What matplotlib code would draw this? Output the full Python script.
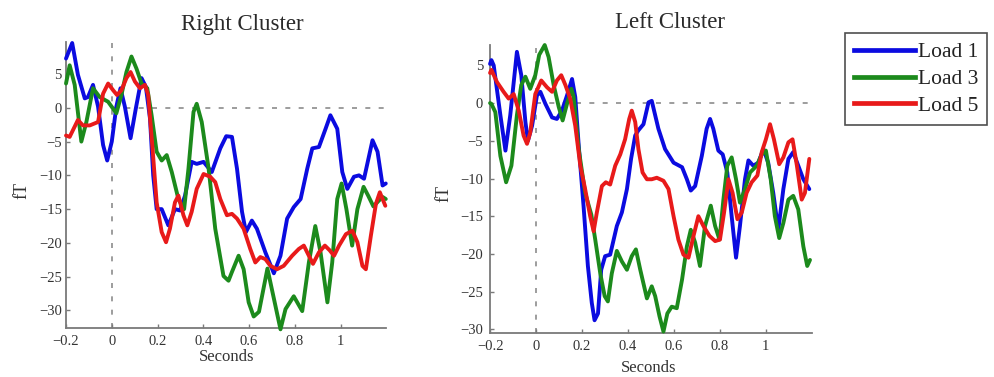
import matplotlib
matplotlib.use("Agg")
import matplotlib.pyplot as plt
from matplotlib.lines import Line2D

# ---------------- data ----------------
series_names = ["Load 1", "Load 3", "Load 5"]
colors = ["#0b0be0", "#1c8a1c", "#e81a1a"]

xticks = [-0.2, 0, 0.2, 0.4, 0.6, 0.8, 1]
xtick_labels = ["\u22120.2", "0", "0.2", "0.4", "0.6", "0.8", "1"]
yticks = [-30, -25, -20, -15, -10, -5, 0, 5]
ytick_labels = ["\u221230", "\u221225", "\u221220", "\u221215", "\u221210", "\u22125", "0", "5"]

# Right Cluster
rc_load1_t = [-0.2, -0.173, -0.148, -0.118, -0.104, -0.082, -0.06, -0.038, -0.02, 0.0, 0.02, 0.038, 0.057,
              0.082, 0.105, 0.13, 0.149, 0.167, 0.181, 0.196, 0.218, 0.247, 0.276, 0.298, 0.32, 0.349, 0.371,
              0.401, 0.437, 0.474, 0.5, 0.525, 0.547, 0.569, 0.586, 0.612, 0.634, 0.671, 0.708, 0.737, 0.766,
              0.795, 0.825, 0.854, 0.876, 0.905, 0.934, 0.955, 0.985, 1.007, 1.029, 1.058, 1.08, 1.102, 1.139,
              1.161, 1.183, 1.197]
rc_load1_v = [7.3, 9.6, 4.9, 1.4, 1.6, 3.4, 0.2, -5.5, -7.8, -5.0, 0.2, 2.9, 0.2, -4.5, -0.1, 4.4, 3.1, -1.6,
              -10, -15, -15, -17.4, -15, -15.2, -13, -8, -8.3, -8, -9.5, -6, -4.2, -4.3, -9, -15.4, -18.4,
              -16.7, -17.9, -21.4, -24.5, -21.9, -16.4, -14.7, -13.5, -9, -6, -5.8, -3.1, -1.1, -3.1, -9.5,
              -12, -10.2, -10, -10.5, -4.8, -6.5, -11.5, -11.2]

rc_load3_t = [-0.2, -0.184, -0.162, -0.133, -0.111, -0.082, -0.053, -0.016, 0.02, 0.042, 0.064, 0.086, 0.108,
              0.13, 0.155, 0.174, 0.196, 0.218, 0.24, 0.262, 0.291, 0.316, 0.335, 0.357, 0.371, 0.393, 0.423,
              0.452, 0.488, 0.51, 0.525, 0.554, 0.576, 0.598, 0.62, 0.643, 0.68, 0.737, 0.759, 0.795, 0.832,
              0.861, 0.889, 0.912, 0.942, 0.963, 0.985, 1.004, 1.025, 1.05, 1.073, 1.1, 1.12, 1.143, 1.165,
              1.183, 1.197]
rc_load3_v = [3.6, 6.3, 3.4, -5.0, -2.1, 2.9, 1.6, 0.9, -0.8, 1.9, 5.3, 7.6, 5.8, 3.6, 2.9, -1.1, -6.5, -7.8,
              -7.0, -9.5, -13.5, -15, -9, -0.6, 0.6, -2.1, -9, -17.9, -24.9, -25.6, -24.3, -21.9, -23.9,
              -28.8, -30.9, -30.2, -23.8, -32.8, -29.8, -27.9, -30.1, -22.9, -17.5, -21.4, -28.8, -22.9,
              -13.5, -11.2, -15, -20.4, -15, -11.7, -13, -14.6, -13.8, -13.2, -13.5]

rc_load5_t = [-0.2, -0.184, -0.148, -0.126, -0.096, -0.06, -0.038, -0.016, 0.006, 0.023, 0.042, 0.064, 0.082,
              0.101, 0.123, 0.145, 0.159, 0.178, 0.196, 0.218, 0.237, 0.254, 0.276, 0.291, 0.313, 0.33, 0.349,
              0.371, 0.401, 0.43, 0.452, 0.474, 0.503, 0.525, 0.547, 0.576, 0.605, 0.627, 0.649, 0.671, 0.693,
              0.722, 0.751, 0.788, 0.817, 0.839, 0.861, 0.879, 0.905, 0.931, 0.952, 0.971, 0.993, 1.023, 1.051,
              1.073, 1.095, 1.11, 1.132, 1.154, 1.171, 1.195]
rc_load5_v = [-4.1, -4.3, -1.8, -2.6, -2.6, -2.1, 2.1, 3.6, 2.6, 1.9, 2.6, 4.4, 5.3, 3.9, 2.9, 3.4, 1.9, -6,
              -14, -18.4, -19.9, -17.9, -14, -13, -15.9, -17.4, -15.4, -12, -9.8, -10.2, -11, -13.5, -15.9,
              -15.7, -16.4, -17.9, -20.9, -22.9, -22.1, -22.4, -23.4, -23.9, -23.4, -21.9, -20.9, -20.4, -21.9,
              -23.1, -21.4, -20.4, -21.1, -21.9, -20.4, -18.7, -18.2, -19.9, -23.4, -23.9, -18.9, -14.2,
              -12.5, -14.5]

# Left Cluster
lc_load1_t = [-0.2, -0.194, -0.184, -0.155, -0.133, -0.112, -0.083, -0.064, -0.046, -0.035, -0.017, 0.004,
              0.019, 0.041, 0.07, 0.091, 0.113, 0.135, 0.157, 0.171, 0.186, 0.207, 0.226, 0.243, 0.255, 0.27,
              0.284, 0.301, 0.323, 0.352, 0.374, 0.396, 0.414, 0.432, 0.446, 0.468, 0.49, 0.504, 0.533, 0.562,
              0.599, 0.636, 0.657, 0.674, 0.693, 0.722, 0.743, 0.758, 0.772, 0.794, 0.813, 0.833, 0.852, 0.871,
              0.888, 0.91, 0.925, 0.946, 0.968, 0.99, 1.011, 1.033, 1.055, 1.077, 1.099, 1.12, 1.142, 1.164,
              1.19]
lc_load1_v = [5.2, 5.7, 5.0, -1.6, -6.3, -1.6, 6.8, 3.7, -2.5, -5.0, -3.0, 1.0, 1.5, -0.1, -1.9, -2.1, -1.0,
              1.0, 3.2, 0.8, -5.6, -13.6, -21.6, -26.5, -28.8, -27.9, -22.1, -20.3, -20.1, -16.3, -14.5, -11.4,
              -7.4, -4.3, -3.6, -2.8, 0.1, 0.3, -3.4, -6.1, -7.9, -8.5, -10.1, -11.6, -11.0, -7.0, -3.4, -2.1,
              -3.4, -6.3, -6.8, -9.2, -15, -20.5, -16.3, -10.1, -7.6, -8.3, -7.9, -6.1, -7.9, -11.9, -16.8,
              -11.4, -7.4, -6.5, -8.3, -10.1, -11.4]

lc_load3_t = [-0.2, -0.194, -0.177, -0.155, -0.13, -0.107, -0.083, -0.064, -0.046, -0.025, -0.003, 0.014,
              0.038, 0.055, 0.077, 0.099, 0.116, 0.135, 0.154, 0.164, 0.186, 0.214, 0.241, 0.258, 0.28, 0.299,
              0.313, 0.33, 0.352, 0.374, 0.396, 0.417, 0.435, 0.454, 0.483, 0.504, 0.519, 0.538, 0.555, 0.572,
              0.591, 0.613, 0.636, 0.657, 0.674, 0.693, 0.714, 0.736, 0.761, 0.78, 0.799, 0.816, 0.833, 0.852,
              0.871, 0.888, 0.91, 0.932, 0.961, 0.983, 1.001, 1.022, 1.04, 1.059, 1.077, 1.099, 1.12, 1.142,
              1.164, 1.181, 1.193]
lc_load3_v = [0.0, -0.1, -1.2, -7.0, -10.5, -8.3, -1.6, 2.4, 3.5, 1.9, 3.7, 6.4, 7.7, 6.1, 2.4, -0.5, -2.3,
              -0.1, 1.9, 0.8, -6.1, -11.9, -14.8, -18.1, -22.6, -25.6, -26.3, -22.6, -19.6, -21.0, -22.1,
              -20.3, -19.4, -22.1, -25.9, -24.3, -25.6, -28.3, -30.3, -27.9, -27.0, -27.2, -23.4, -19.0, -16.8,
              -18.5, -21.6, -16.3, -13.6, -16.3, -18.1, -12.8, -8.3, -7.2, -10.1, -13.2, -11.4, -9.2, -8.3,
              -6.8, -6.3, -10.1, -15.0, -17.9, -15.9, -12.8, -12.3, -14.1, -19.0, -21.6, -20.8]

lc_load5_t = [-0.2, -0.194, -0.17, -0.141, -0.119, -0.097, -0.075, -0.054, -0.039, -0.025, -0.003, 0.023,
              0.048, 0.07, 0.091, 0.11, 0.128, 0.149, 0.171, 0.193, 0.214, 0.236, 0.251, 0.265, 0.287, 0.304,
              0.323, 0.345, 0.367, 0.388, 0.406, 0.417, 0.432, 0.446, 0.464, 0.483, 0.504, 0.526, 0.555, 0.577,
              0.599, 0.62, 0.642, 0.664, 0.686, 0.707, 0.729, 0.755, 0.78, 0.801, 0.819, 0.838, 0.856, 0.877,
              0.896, 0.917, 0.939, 0.964, 0.983, 1.001, 1.019, 1.036, 1.059, 1.077, 1.099, 1.117, 1.136, 1.157,
              1.171, 1.19]
lc_load5_v = [4.0, 4.4, 2.8, 1.5, 0.6, 1.2, -1.0, -4.3, -5.4, -3.9, 1.2, 3.0, 2.1, 1.5, 3.0, 3.7, 2.4, 0.6,
              -3.0, -8.3, -11.4, -15, -17, -14.5, -11, -10.5, -10.8, -8.3, -6.8, -4.8, -2.1, -1.0, -2.5, -6.1,
              -9.2, -10.1, -10.1, -9.9, -10.3, -11.4, -15, -18.1, -20.1, -20.5, -17.6, -15, -16.3, -17.6,
              -18.3, -18.1, -14.5, -10.1, -11.9, -15.4, -14.5, -11.9, -10.5, -9.6, -6.5, -4.8, -2.8, -4.8,
              -8.1, -7.2, -5.2, -4.8, -8.3, -12.8, -11.9, -7.4]

panels = [
    dict(title="Right Cluster",
         series=[(rc_load1_t, rc_load1_v), (rc_load3_t, rc_load3_v), (rc_load5_t, rc_load5_v)],
         ylim=(-32.6, 9.75), rect=[0.0664, 0.130, 0.3224, 0.7586],
         title_xy=(0.2435, 0.9204), xlabel_xy=(0.2284, 0.043), ylabel_xy=(0.022, 0.496), ypad=3),
    dict(title="Left Cluster",
         series=[(lc_load1_t, lc_load1_v), (lc_load3_t, lc_load3_v), (lc_load5_t, lc_load5_v)],
         ylim=(-30.45, 7.7), rect=[0.4930, 0.1175, 0.3235, 0.7630],
         title_xy=(0.674, 0.9257), xlabel_xy=(0.653, 0.012), ylabel_xy=(0.447, 0.488), ypad=5),
]

serif = ["Liberation Serif", "DejaVu Serif"]
plt.rcParams["font.family"] = serif

fig = plt.figure(figsize=(9.94, 3.77), dpi=100)
grey = "#7a7a7a"
txt = "#333333"

for p in panels:
    ax = fig.add_axes(p["rect"])
    ax.set_xlim(-0.2, 1.2)
    ax.set_ylim(*p["ylim"])
    # reference dashed lines
    ax.axhline(0, xmin=(0 + 0.2) / 1.4, xmax=1, color="#8c8c8c", lw=1.2,
               linestyle=(0, (3.0, 5.0)), zorder=1)
    ax.axvline(0, color="#8c8c8c", lw=1.2, linestyle=(0, (3.0, 5.0)), zorder=1)
    for (t, v), c in zip(p["series"], colors):
        ax.plot(t, v, color=c, lw=2.8, solid_joinstyle="round", solid_capstyle="round",
                zorder=3, clip_on=False)
    for s in ["top", "right"]:
        ax.spines[s].set_visible(False)
    for s in ["left", "bottom"]:
        ax.spines[s].set_color(grey)
        ax.spines[s].set_linewidth(1.3)
    ax.set_xticks(xticks)
    ax.set_xticklabels(xtick_labels)
    ax.set_yticks(yticks)
    ax.set_yticklabels(ytick_labels)
    ax.tick_params(axis="both", direction="in", length=3, width=1, color=grey,
                   labelsize=10.5, labelcolor=txt)
    ax.tick_params(axis="x", pad=5)
    ax.tick_params(axis="y", pad=p["ypad"])
    fig.text(p["title_xy"][0], p["title_xy"][1], p["title"], ha="center", va="baseline",
             fontsize=16.5, color="#2a2a2a")
    fig.text(p["xlabel_xy"][0], p["xlabel_xy"][1], "Seconds", ha="center", va="baseline",
             fontsize=12, color=txt)
    fig.text(p["ylabel_xy"][0], p["ylabel_xy"][1], "fT", ha="center", va="center",
             rotation=90, fontsize=13, color=txt)

handles = [Line2D([], [], color=c, lw=3.4) for c in colors]
leg = fig.legend(handles, series_names, loc="upper left",
                 bbox_to_anchor=(845 / 994, 1 - 33 / 377), bbox_transform=fig.transFigure,
                 frameon=True, fancybox=False, fontsize=15.5, handlelength=2.85,
                 handletextpad=0.12, labelspacing=0.32, borderpad=0.42, borderaxespad=0)
leg.get_frame().set_edgecolor("#222222")
leg.get_frame().set_linewidth(1.2)
for t in leg.get_texts():
    t.set_color("#222222")

fig.savefig("out.png", dpi=100)
